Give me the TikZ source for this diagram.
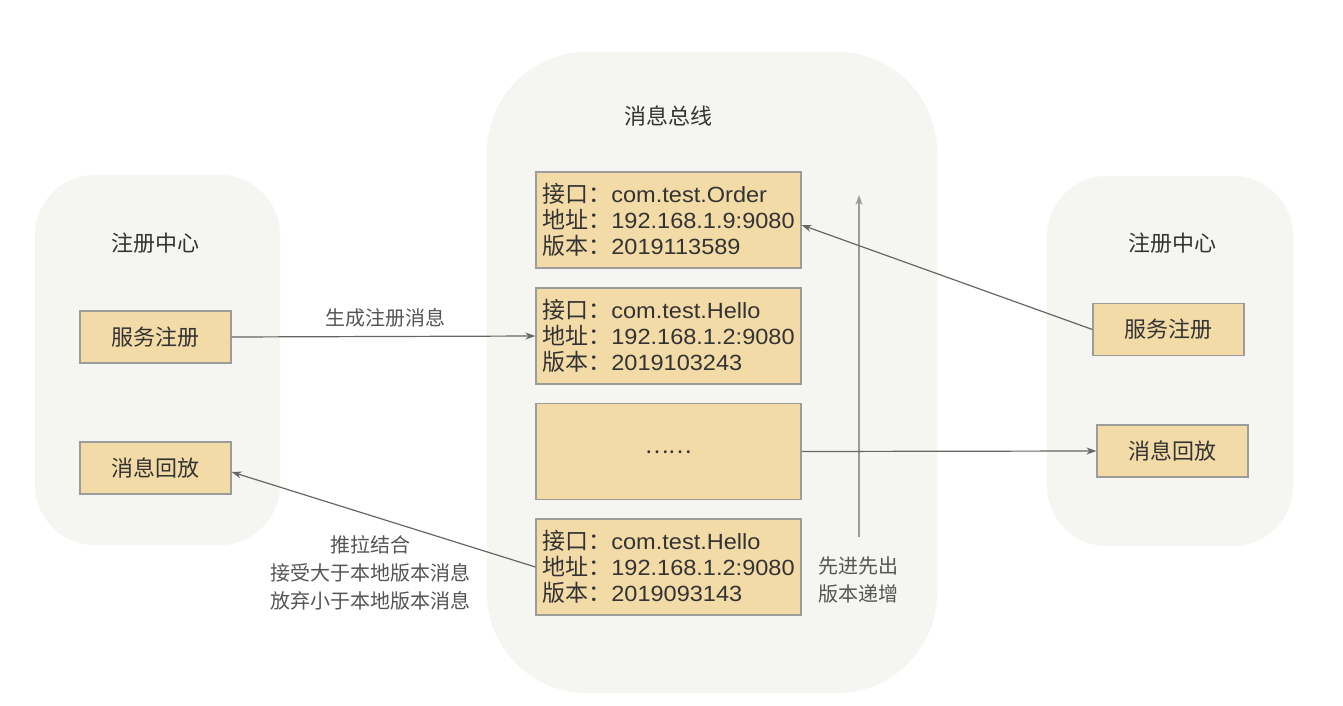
\documentclass[tikz,border=0pt]{standalone}
\usepackage{fontspec}
\setmainfont{Liberation Sans}[FakeStretch=1.07]
\newfontfamily\cjk{Noto Sans CJK SC}
\usetikzlibrary{arrows.meta}
\definecolor{bgc}{HTML}{F5F5F1}
\definecolor{boxc}{HTML}{F3DBA8}
\definecolor{edgec}{HTML}{9C9C9C}
\definecolor{txtc}{HTML}{333333}
\definecolor{lblc}{HTML}{555555}
\definecolor{arrc}{HTML}{666666}
\definecolor{varrc}{HTML}{9A9A9A}
\tikzset{
  container/.style={fill=bgc, draw=none, rounded corners=#1},
  boxn/.style={fill=boxc, draw=edgec, line width=1.2pt, text=txtc, inner sep=0pt},
  bigbox/.style={boxn, minimum width=265pt, minimum height=96pt, align=left,
     font=\fontsize{22}{26}\selectfont},
  smallbox/.style={boxn, minimum width=151pt, minimum height=52pt,
     font=\cjk\fontsize{22}{26}\selectfont},
  title/.style={text=txtc, font=\cjk\fontsize{22}{26}\selectfont},
  lbl/.style={text=lblc, align=center, font=\cjk\fontsize{20}{28}\selectfont},
  arr/.style={draw=arrc, line width=1.2pt, -{Stealth[length=10pt,width=7pt]}},
  varr/.style={draw=varrc, line width=1.2pt, -{Stealth[length=10pt,width=7pt]}},
}
\newcommand{\cj}[1]{{\cjk\fontsize{23}{26}\selectfont #1}}
\begin{document}
\begin{tikzpicture}[x=1pt,y=-1pt]
\useasboundingbox[fill=white] (0,0) rectangle (1343,706);
% containers
\node[container=60, minimum width=245pt, minimum height=370pt] (lc) at (157.5,360) {};
\node[container=100, minimum width=450pt, minimum height=641pt] (cc) at (712,372.5) {};
\node[container=60, minimum width=246pt, minimum height=370pt] (rc) at (1170,361) {};
% titles
\node[title] (tl) at (155,243) {注册中心};
\node[title] (tc) at (668,116) {消息总线};
\node[title] (tr) at (1172,243) {注册中心};
% small boxes
\node[smallbox] (ls) at (155.5,337) {服务注册};
\node[smallbox] (lr) at (155.5,468) {消息回放};
\node[smallbox] (rs) at (1168.5,329.5) {服务注册};
\node[smallbox] (rr) at (1172.5,451) {消息回放};
% big boxes
\node[bigbox] (b1) at (668.5,220) {\cj{接口：}com.test.Order\\\cj{地址：}192.168.1.9:9080\\\cj{版本：}2019113589};
\node[bigbox] (b2) at (668.5,336) {\cj{接口：}com.test.Hello\\\cj{地址：}192.168.1.2:9080\\\cj{版本：}2019103243};
\node[bigbox, font=\cjk\fontsize{22}{26}\selectfont] (b3) at (668.5,451.5) {\raisebox{-5pt}{……}};
\node[bigbox] (b4) at (668.5,567) {\cj{接口：}com.test.Hello\\\cj{地址：}192.168.1.2:9080\\\cj{版本：}2019093143};
% vertical arrow
\coordinate (va) at (859,537);
\coordinate (vb) at (859,195);
\draw[varr] (va) -- (vb);
% connectors
\draw[arr] (ls.east) -- (b2.west);
\draw[arr] (b4.west) -- ([yshift=-4pt]lr.east);
\draw[arr] (rs.west) -- ([yshift=-5pt]b1.east);
\draw[arr] (b3.east) -- (rr.west);
% labels
\node[lbl] (l1) at (385,318) {生成注册消息};
\node[lbl] (l2) at (370,573) {推拉结合\\接受大于本地版本消息\\放弃小于本地版本消息};
\node[lbl] (l3) at (858,580) {先进先出\\版本递增};
\end{tikzpicture}
\end{document}
